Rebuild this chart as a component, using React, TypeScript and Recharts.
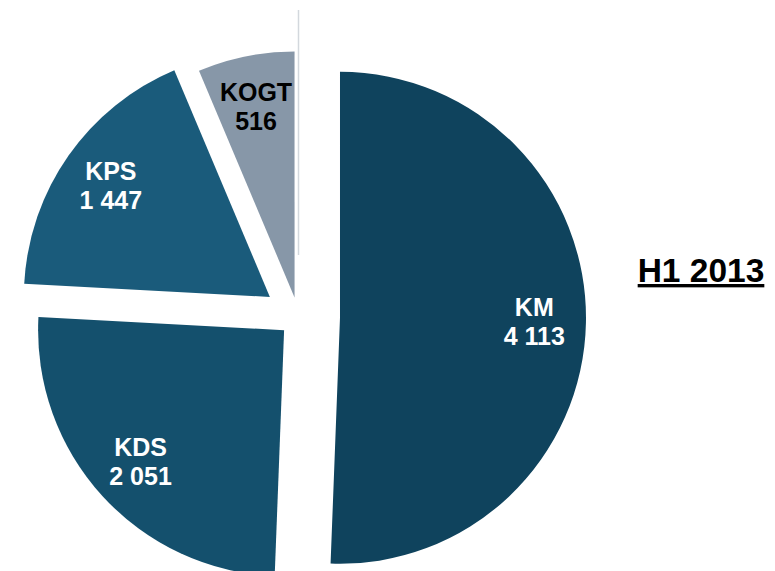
import React from 'react';
import { PieChart, Pie, Cell, Customized } from 'recharts';

const categories = ['KM', 'KDS', 'KPS', 'KOGT'];
const values = [4113, 2051, 1447, 516];
const periodLabel = 'H1 2013';

const COLORS = ['#0f435d', '#14506d', '#1a5b7b', '#8797a8'];
const LABEL_COLORS = ['#ffffff', '#ffffff', '#ffffff', '#000000'];
const EXPLODE = [41.5, 19.5, 35, 20];
const CX = 298.5;
const CY = 317;
const R = 246;
const RAD = Math.PI / 180;

const fmt = (v: number) => String(v).replace(/\B(?=(\d{3})+(?!\d))/g, ' ');

const total = values.reduce((a, b) => a + b, 0);
const slices = values.map((v, i) => {
  const before = values.slice(0, i).reduce((a, b) => a + b, 0);
  const a0 = (360 * before) / total;
  const a1 = (360 * (before + v)) / total;
  const mid = (a0 + a1) / 2;
  return {
    name: categories[i],
    value: v,
    startAngle: 90 - a0,
    endAngle: 90 - a1,
    cx: CX + EXPLODE[i] * Math.sin(mid * RAD),
    cy: CY - EXPLODE[i] * Math.cos(mid * RAD),
  };
});

const makeLabel = (i: number) => (props: any) => {
  const { cx, cy, midAngle, outerRadius } = props;
  const r = outerRadius * 0.79;
  const x = cx + r * Math.cos(-midAngle * RAD);
  const y = cy + r * Math.sin(-midAngle * RAD);
  return (
    <text
      x={x}
      y={y}
      textAnchor="middle"
      fill={LABEL_COLORS[i]}
      style={{ fontFamily: '"Liberation Sans", Arial, sans-serif', fontWeight: 700, fontSize: 25 }}
    >
      <tspan x={x} y={y - 5.5}>{categories[i]}</tspan>
      <tspan x={x} y={y + 23.5}>{fmt(values[i])}</tspan>
    </text>
  );
};

const Decor = () => (
  <g>
    <line x1={298.5} y1={10} x2={298.5} y2={255} stroke="#d3d8dd" strokeWidth={1.5} />
    <text
      x={701}
      y={282}
      textAnchor="middle"
      fill="#000"
      style={{
        fontFamily: '"Liberation Sans", Arial, sans-serif',
        fontWeight: 700,
        fontSize: 33.5,
        textDecoration: 'underline',
      }}
    >
      {periodLabel}
    </text>
  </g>
);

export default function App() {
  return (
    <div style={{ position: 'absolute', left: 0, top: 0, width: 775, height: 571, background: '#fff' }}>
      <PieChart width={775} height={571} margin={{ top: 0, right: 0, bottom: 0, left: 0 }}>
        <Customized component={Decor} />
        {slices.map((s, i) => (
          <Pie
            key={s.name}
            data={[{ name: s.name, value: s.value }]}
            dataKey="value"
            nameKey="name"
            cx={s.cx}
            cy={s.cy}
            innerRadius={0}
            outerRadius={R}
            startAngle={s.startAngle}
            endAngle={s.endAngle}
            stroke="none"
            isAnimationActive={false}
            labelLine={false}
            label={makeLabel(i)}
          >
            <Cell fill={COLORS[i]} />
          </Pie>
        ))}
      </PieChart>
    </div>
  );
}
